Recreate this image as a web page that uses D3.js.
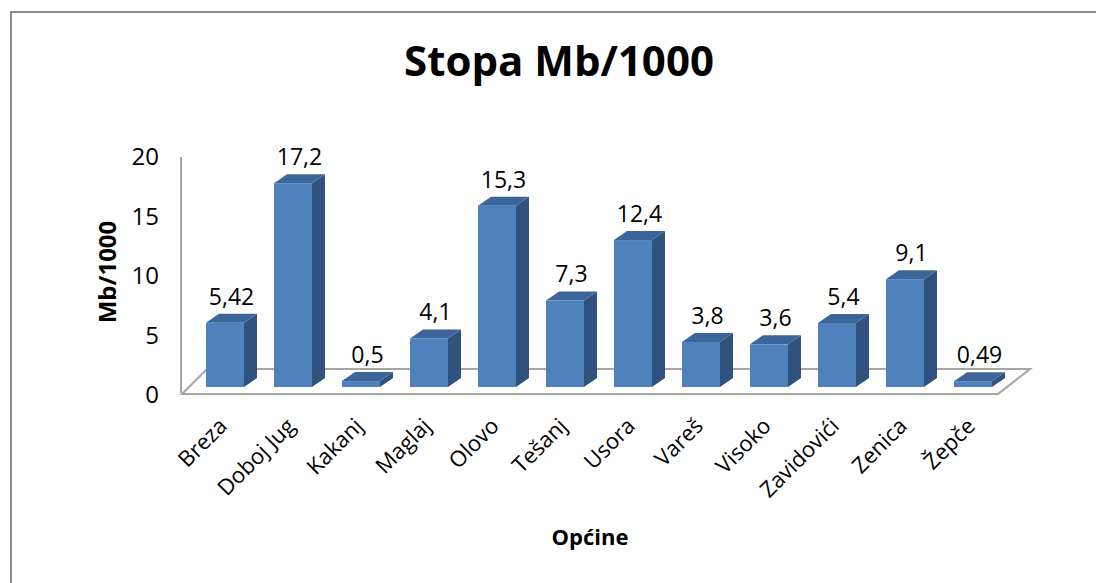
<!DOCTYPE html>
<html>
<head>
<meta charset="utf-8">
<script src="https://cdn.jsdelivr.net/npm/d3@7"></script>
<style>
  html, body { margin: 0; padding: 0; background: #fff; }
  svg { display: block; }
  text { font-family: "Open Sans", "Noto Sans", sans-serif; fill: #000; }
</style>
</head>
<body>
<svg id="chart" width="1096" height="583"></svg>
<script>
const categories = ["Breza", "Doboj Jug", "Kakanj", "Maglaj", "Olovo", "Tešanj", "Usora", "Vareš", "Visoko", "Zavidovići", "Zenica", "Žepče"];
const values = [5.42, 17.2, 0.5, 4.1, 15.3, 7.3, 12.4, 3.8, 3.6, 5.4, 9.1, 0.49];
const valueLabels = ["5,42", "17,2", "0,5", "4,1", "15,3", "7,3", "12,4", "3,8", "3,6", "5,4", "9,1", "0,49"];
const yTicks = [0, 5, 10, 15, 20];
const title = "Stopa Mb/1000";
const xTitle = "Općine";
const yTitle = "Mb/1000";

const svg = d3.select("#chart");

// chart area border
svg.append("rect").attr("x", 11).attr("y", 12).attr("width", 1100).attr("height", 600)
  .attr("fill", "#fff").attr("stroke", "#8c8c8c").attr("stroke-width", 2);

// scales
const x = d3.scaleBand().domain(categories).range([191, 1007])
  .paddingInner(0.441).paddingOuter(0.2206);
const yAxisScale = d3.scaleLinear().domain([0, 20]).range([395, 157]);
const yBar = d3.scaleLinear().domain([0, 20]).range([387, 150]);
const dx = 13, dy = -9;

// floor
svg.append("polygon")
  .attr("points", [[182, 394], [998, 394], [1030, 369], [207, 369]].map(p => p.join(",")).join(" "))
  .attr("fill", "#fff").attr("stroke", "#a6a6a6").attr("stroke-width", 2);

// vertical axis line
svg.append("line").attr("x1", 181).attr("x2", 181).attr("y1", yAxisScale(20)).attr("y2", 393)
  .attr("stroke", "#a6a6a6").attr("stroke-width", 2);

// y ticks labels
svg.append("g").selectAll("text").data(yTicks).join("text")
  .attr("x", 159).attr("y", d => yAxisScale(d)).attr("dy", "0.35em")
  .attr("text-anchor", "end").attr("font-size", 24)
  .text(d => d);

// bars
const bars = svg.append("g").selectAll("g").data(values).join("g");
bars.each(function(v, i) {
  const g = d3.select(this);
  const x0 = x(categories[i]), w = x.bandwidth();
  const yt = yBar(v), yb = yBar(0);
  g.append("polygon").attr("points", [[x0 + w, yb], [x0 + w + dx, yb + dy], [x0 + w + dx, yt + dy], [x0 + w, yt]].map(p => p.join(",")).join(" "))
    .attr("fill", "#30527f");
  g.append("polygon").attr("points", [[x0, yt], [x0 + w, yt], [x0 + w + dx, yt + dy], [x0 + dx, yt + dy]].map(p => p.join(",")).join(" "))
    .attr("fill", "#3c6599");
  g.append("rect").attr("x", x0).attr("y", yt).attr("width", w).attr("height", yb - yt)
    .attr("fill", "#4f81bd");
});

// value labels
svg.append("g").selectAll("text").data(values).join("text")
  .attr("x", (d, i) => x(categories[i]) + (x.bandwidth() + dx) / 2)
  .attr("y", d => yBar(d) - 18)
  .attr("text-anchor", "middle").attr("font-size", 23)
  .text((d, i) => valueLabels[i]);

// category labels
svg.append("g").selectAll("text").data(categories).join("text")
  .attr("transform", d => `translate(${x(d) + x.bandwidth() / 2 - 2},${422}) rotate(-45)`)
  .attr("text-anchor", "end").attr("dy", "0.35em").attr("font-size", 22)
  .text(d => d);

// titles
svg.append("text").attr("x", 559).attr("y", 76).attr("text-anchor", "middle")
  .attr("font-size", 42).attr("font-weight", "bold").text(title);
svg.append("text").attr("x", 590).attr("y", 545).attr("text-anchor", "middle")
  .attr("font-size", 22).attr("font-weight", "bold").text(xTitle);
svg.append("text").attr("transform", "translate(116,272) rotate(-90)").attr("text-anchor", "middle")
  .attr("font-size", 24).attr("font-weight", "bold").text(yTitle);
</script>
</body>
</html>
